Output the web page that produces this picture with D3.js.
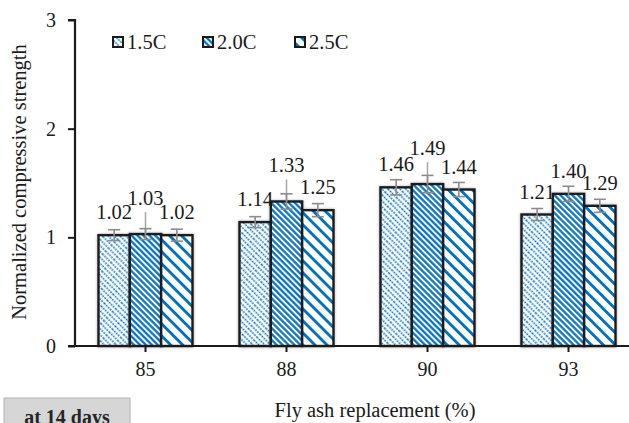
<!DOCTYPE html>
<html lang="en">
<head>
<meta charset="UTF-8">
<title>compressive strength</title>
<script src="https://d3js.org/d3.v7.min.js"></script>
<style>
body { margin: 0; background: #fff; }
svg, svg text { font-family: "Liberation Serif", "Times New Roman", "DejaVu Serif", serif !important; }
</style>
</head>
<body>
<script>
// data
const categories = ["85", "88", "90", "93"];
const series = ["1.5C", "2.0C", "2.5C"];
const values15 = [1.02, 1.14, 1.46, 1.21];
const values20 = [1.03, 1.33, 1.49, 1.40];
const values25 = [1.02, 1.25, 1.44, 1.29];
const err15 = [0.05, 0.05, 0.07, 0.055];
const err20 = [0.05, 0.07, 0.08, 0.07];
const err25 = [0.055, 0.06, 0.065, 0.06];
const yTicks = [0, 1, 2, 3];

const width = 629, height = 423;
const svg = d3.select("body").append("svg")
    .attr("width", width).attr("height", height);

const defs = svg.append("defs");
const blue = "#0070c0";

// hatch patterns, all running "\" direction
function hatch(id, size, stroke, dash) {
    const p = defs.append("pattern")
        .attr("id", id)
        .attr("patternUnits", "userSpaceOnUse")
        .attr("width", 12).attr("height", size)
        .attr("patternTransform", "rotate(45)");
    p.append("rect").attr("width", 12).attr("height", size).attr("fill", "#fff");
    const l = p.append("line")
        .attr("x1", 0).attr("x2", 12)
        .attr("y1", size / 2).attr("y2", size / 2)
        .attr("stroke", blue).attr("stroke-width", stroke);
    if (dash) l.attr("stroke-dasharray", dash);
}
hatch("p15", 4.2, 1.5, "1.6,1.2");
hatch("p20", 4.2, 2.2, null);
hatch("p25", 8.5, 2.8, null);
const fills = ["url(#p15)", "url(#p20)", "url(#p25)"];

const shadow = defs.append("filter").attr("id", "shd")
    .attr("x", "-20%").attr("y", "-20%").attr("width", "140%").attr("height", "140%");
shadow.append("feDropShadow").attr("dx", 0).attr("dy", 0)
    .attr("stdDeviation", 1.6).attr("flood-color", "#000").attr("flood-opacity", 0.3);

const x0 = d3.scaleBand().domain(categories).range([75, 639]);
const x1 = d3.scaleBand().domain(series).range([0, x0.bandwidth()]).paddingOuter(0.75);
const y = d3.scaleLinear().domain([0, 3]).range([346, 20]);

const rows = [];
const vals = [values15, values20, values25];
const errs = [err15, err20, err25];
categories.forEach((c, i) => {
    series.forEach((s, j) => {
        rows.push({cat: c, s: s, j: j, v: vals[j][i], e: errs[j][i], leader: j === 1 && i < 3});
    });
});

// bars
const g = svg.append("g");
g.selectAll("rect.bar").data(rows).enter().append("rect")
    .attr("class", "bar")
    .attr("x", d => x0(d.cat) + x1(d.s))
    .attr("y", d => y(d.v))
    .attr("width", x1.bandwidth())
    .attr("height", d => y(0) - y(d.v))
    .attr("fill", d => fills[d.j])
    .attr("stroke", "#1a1a1a")
    .attr("stroke-width", 2.4)
    .attr("filter", "url(#shd)");

const cx = d => x0(d.cat) + x1(d.s) + x1.bandwidth() / 2;

// leader lines from moved labels
g.selectAll("line.leader").data(rows.filter(d => d.leader)).enter().append("line")
    .attr("x1", cx).attr("x2", cx)
    .attr("y1", d => y(d.v) - 22).attr("y2", d => y(d.v))
    .attr("stroke", "#a6a6a6").attr("stroke-width", 1.5);

// error bars
const eb = g.selectAll("g.err").data(rows).enter().append("g").attr("class", "err")
    .attr("stroke", "#8c8c8c").attr("stroke-width", 1.6);
eb.append("line").attr("x1", cx).attr("x2", cx)
    .attr("y1", d => y(d.v + d.e)).attr("y2", d => y(d.v - d.e));
eb.append("line").attr("x1", d => cx(d) - 6).attr("x2", d => cx(d) + 6)
    .attr("y1", d => y(d.v + d.e)).attr("y2", d => y(d.v + d.e));
eb.append("line").attr("x1", d => cx(d) - 6).attr("x2", d => cx(d) + 6)
    .attr("y1", d => y(d.v - d.e)).attr("y2", d => y(d.v - d.e));

// value labels
g.selectAll("text.val").data(rows).enter().append("text")
    .attr("x", cx)
    .attr("y", d => y(d.v) - (d.leader ? 36 : 23) + 7)
    .attr("text-anchor", "middle")
    .attr("font-size", 20.5)
    .attr("fill", "#1a1a1a")
    .text(d => d.v.toFixed(2));

// axes
const yAxis = svg.append("g").attr("transform", "translate(75,0)")
    .call(d3.axisLeft(y).tickValues(yTicks).tickFormat(d3.format("d")).tickSize(7).tickPadding(12));
const xAxis = svg.append("g").attr("transform", "translate(0,346)")
    .call(d3.axisBottom(x0).tickSize(6).tickPadding(10));
[yAxis, xAxis].forEach(a => {
    a.attr("font-family", null);
    a.select(".domain").attr("stroke", "#1a1a1a").attr("stroke-width", 2.2);
    a.selectAll(".tick line").attr("stroke", "#1a1a1a").attr("stroke-width", 2);
    a.selectAll("text").attr("font-size", 20).attr("fill", "#1a1a1a");
});
yAxis.select(".domain").attr("d", "M-7,20H0V346");
xAxis.select(".domain").attr("d", "M68,0H639");

// axis titles
svg.append("text")
    .attr("transform", "translate(26,182) rotate(-90)")
    .attr("text-anchor", "middle").attr("font-size", 20.5).attr("fill", "#1a1a1a")
    .text("Normalized compressive strength");
svg.append("text")
    .attr("x", 375).attr("y", 417)
    .attr("text-anchor", "middle").attr("font-size", 20.5).attr("fill", "#1a1a1a")
    .text("Fly ash replacement (%)");

// legend
const legX = [113, 203, 295];
const leg = svg.append("g").selectAll("g").data(series).enter().append("g")
    .attr("transform", (d, i) => `translate(${legX[i]},37)`);
leg.append("rect").attr("width", 10).attr("height", 10)
    .attr("fill", (d, i) => fills[i]).attr("stroke", "#1a1a1a").attr("stroke-width", 2);
leg.append("text").attr("x", 14).attr("y", 12)
    .attr("font-size", 20.5).attr("fill", "#1a1a1a").text(d => d);

// note box at the bottom left
svg.append("rect").attr("x", 4).attr("y", 398).attr("width", 126).attr("height", 30)
    .attr("fill", "#d6d6d6").attr("stroke", "#b4b4b4").attr("stroke-width", 1);
svg.append("text").attr("x", 67).attr("y", 424).attr("text-anchor", "middle")
    .attr("font-size", 20).attr("font-weight", "bold").attr("fill", "#262626")
    .text("at 14 days");
</script>
</body>
</html>
